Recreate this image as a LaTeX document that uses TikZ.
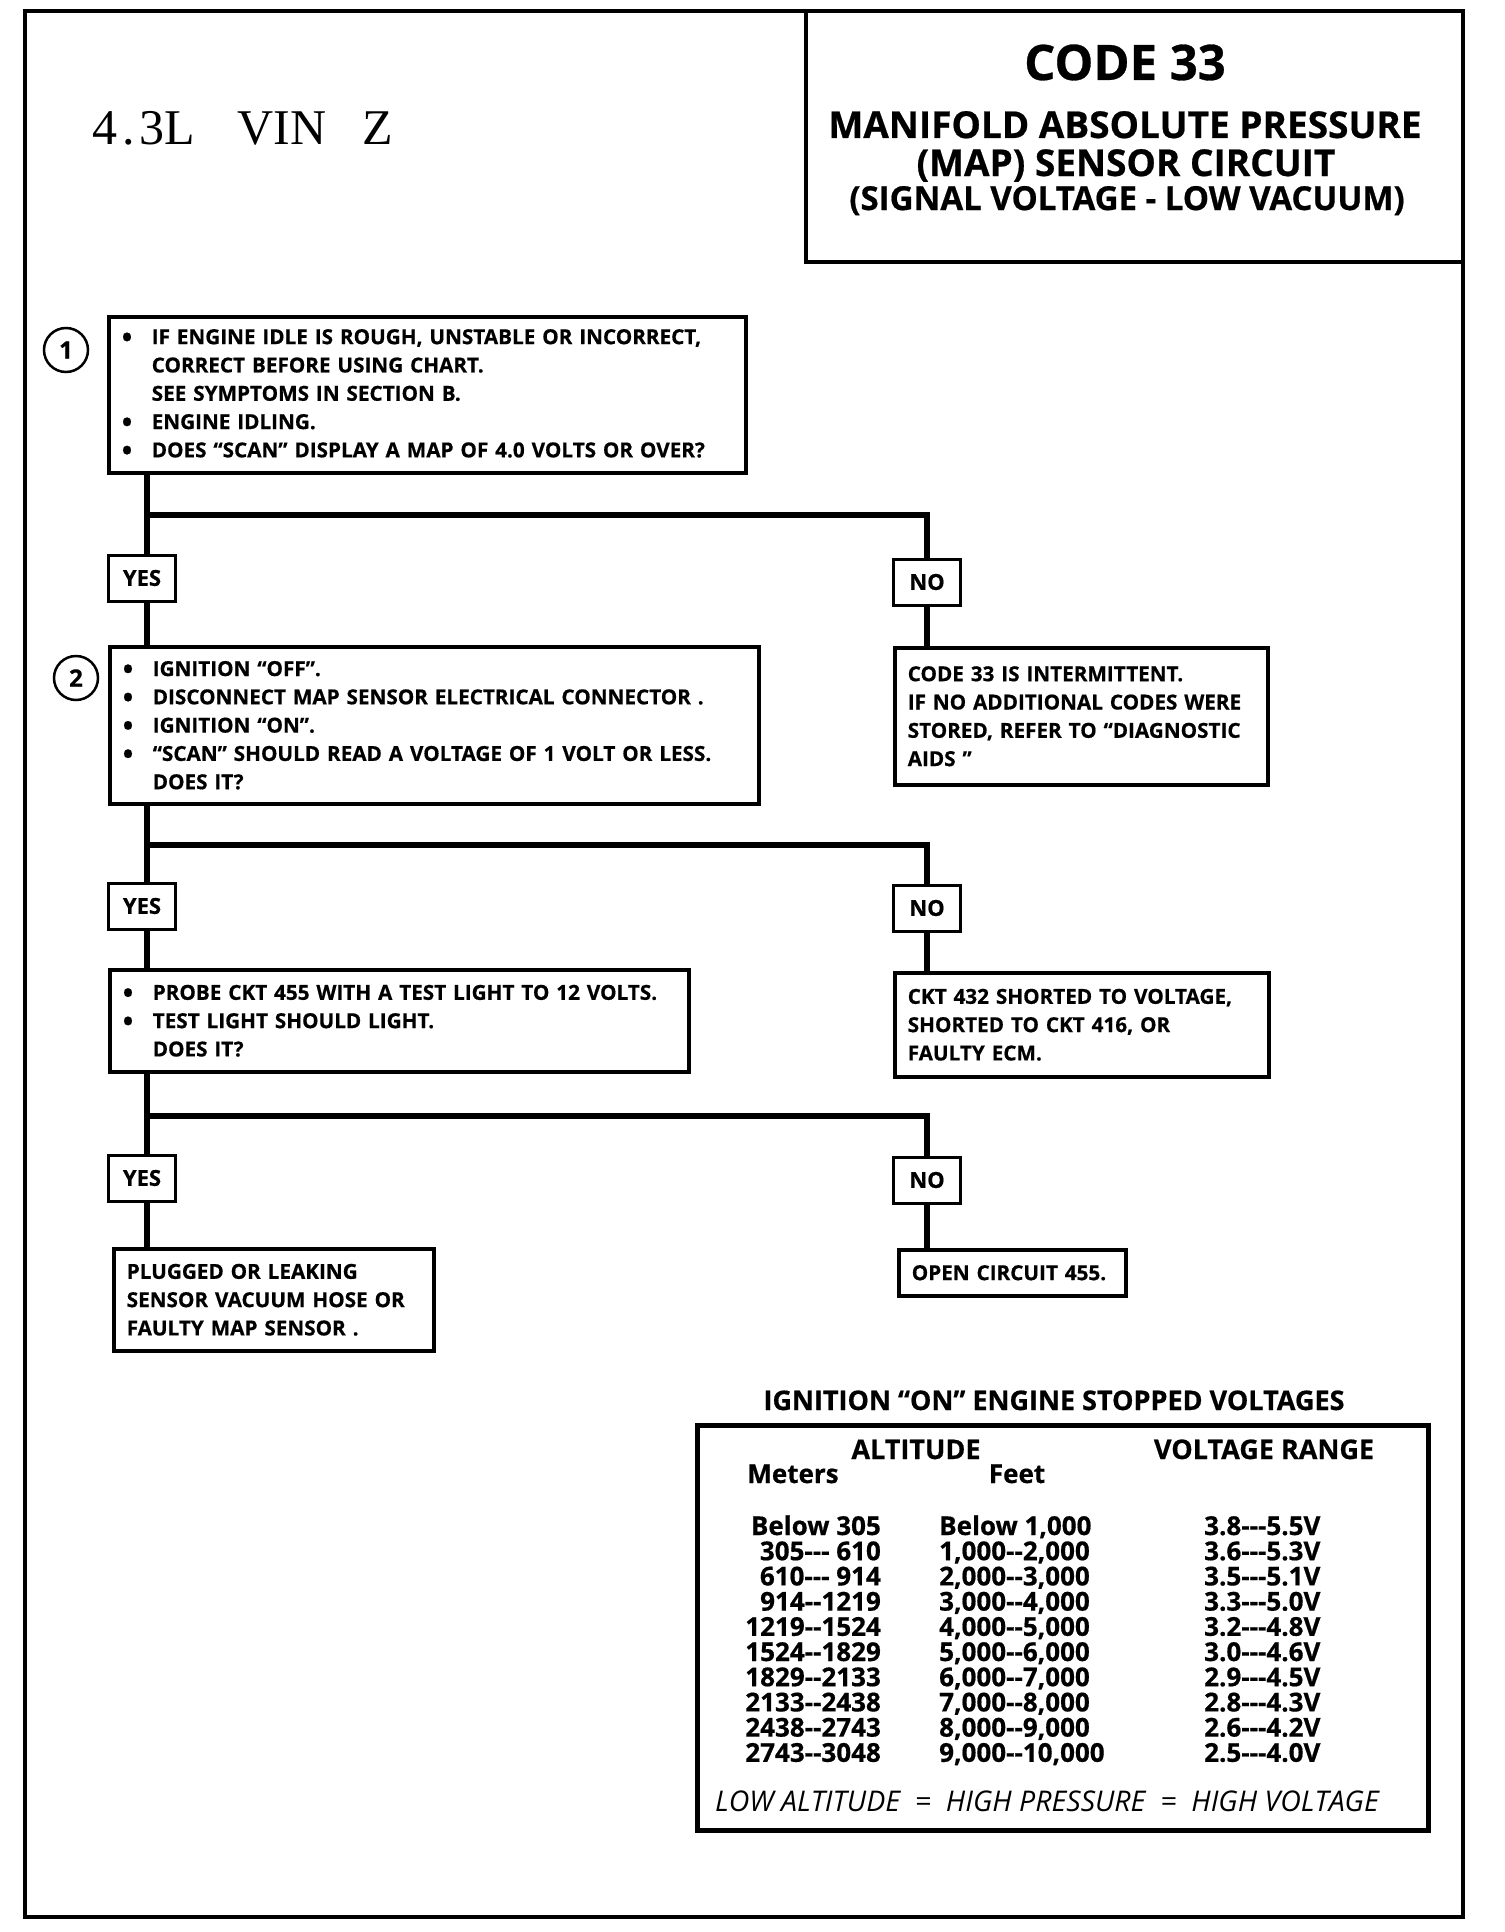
\documentclass[tikz,border=0pt]{standalone}
\usepackage{fontspec}
\setmainfont{Open Sans}[Ligatures=TeXOff]
\newfontfamily\heavy{Open Sans}[Ligatures=TeXOff, BoldFeatures={FakeBold=0.6}]
\newfontfamily\vinfont{Liberation Serif}
\usetikzlibrary{positioning}

\newcommand{\bitem}{\makebox[30pt][l]{\raisebox{-3pt}{\fontsize{28}{0}\selectfont\textbullet}}}
\newcommand{\bcont}{\hspace*{30pt}}

\begin{document}
\begin{tikzpicture}[
  x=1pt, y=-1pt,
  chk/.style={draw, line width=3.5pt, anchor=north west, align=left,
    inner xsep=13pt, inner ysep=0pt,
    font=\heavy\bfseries\fontsize{20.7}{28.3}\selectfont},
  ans/.style={draw, line width=3pt, fill=white, minimum width=67pt,
    minimum height=46pt, inner sep=0pt,
    font=\heavy\bfseries\fontsize{22}{22}\selectfont},
  num/.style={circle, draw, line width=2.5pt, minimum size=44pt,
    inner sep=0pt, font=\heavy\bfseries\fontsize{24}{24}\selectfont},
  conn/.style={line width=6pt},
  ttl/.style={anchor=base, inner sep=0pt, font=\heavy\bfseries\fontsize{37}{37}\selectfont},
  cell/.style={inner sep=0pt, font=\heavy\bfseries\fontsize{26}{26}\selectfont}
]
\useasboundingbox (0,0) rectangle (1504,1932);

% frame and heading
\draw[line width=4pt] (25,11) rectangle (1463,1917);
\draw[line width=3.5pt] (806,11) rectangle (1463,262);
\node[anchor=base west, inner sep=0pt, font=\vinfont\fontsize{50}{50}\selectfont]
  (vin) at (92,145) {4\kern5pt.\kern5pt3L\hspace{42pt}VIN\hspace{36pt}Z};
\node[ttl, font=\heavy\bfseries\fontsize{49}{49}\selectfont] (code) at (1125,80) {CODE 33};
\node[ttl] (titleA) at (1125,138) {MANIFOLD ABSOLUTE PRESSURE};
\node[ttl] (titleB) at (1126,176) {(MAP) SENSOR CIRCUIT};
\node[ttl, font=\heavy\bfseries\fontsize{33}{33}\selectfont] (titleC) at (1127,210) {(SIGNAL VOLTAGE - LOW VACUUM)};

% checks
\node[num] (n1) at (66,350) {1};
\node[num] (n2) at (76,678) {2};

\node[chk, text width=611pt, minimum height=156pt] (q1) at (107,315)
  {\bitem IF ENGINE IDLE IS ROUGH, UNSTABLE OR INCORRECT,\\
   \bcont CORRECT BEFORE USING CHART.\\
   \bcont SEE SYMPTOMS IN SECTION B.\\
   \bitem ENGINE IDLING.\\
   \bitem DOES “SCAN” DISPLAY A MAP OF 4.0 VOLTS OR OVER?};
\node[chk, text width=623pt, minimum height=157pt] (q2) at (108,645)
  {\bitem IGNITION “OFF”.\\
   \bitem DISCONNECT MAP SENSOR ELECTRICAL CONNECTOR .\\
   \bitem IGNITION “ON”.\\
   \bitem “SCAN” SHOULD READ  A VOLTAGE OF 1 VOLT OR LESS.\\
   \bcont DOES IT?};
\node[chk, text width=553pt, minimum height=102pt] (q3) at (108,968)
  {\bitem PROBE CKT 455 WITH A TEST LIGHT TO 12  VOLTS.\\
   \bitem TEST LIGHT SHOULD LIGHT.\\
   \bcont DOES IT?};

% results
\node[chk, text width=347pt, minimum height=137pt] (r1) at (893,646)
  {CODE 33 IS INTERMITTENT.\\
   IF NO ADDITIONAL CODES WERE\\
   STORED, REFER TO  “DIAGNOSTIC\\
   AIDS ”};
\node[chk, text width=348pt, minimum height=104pt] (r2) at (893,971)
  {CKT 432 SHORTED TO VOLTAGE,\\
   SHORTED TO CKT 416, OR\\
   FAULTY ECM.};
\node[chk, text width=294pt, minimum height=102pt] (l3) at (112,1247)
  {PLUGGED OR LEAKING\\
   SENSOR  VACUUM HOSE OR\\
   FAULTY MAP SENSOR .};
\node[chk, text width=201pt, minimum height=46pt] (r3) at (897,1248)
  {OPEN CIRCUIT 455.};

% answers
\node[ans] (y1) at (142,578) {YES};
\node[ans] (no1) at (927,582) {NO};
\node[ans] (y2) at (142,906) {YES};
\node[ans] (no2) at (927,908) {NO};
\node[ans] (y3) at (142,1178) {YES};
\node[ans] (no3) at (927,1180) {NO};

\coordinate (b1) at (147,515);
\coordinate (b2) at (147,845);
\coordinate (b3) at (147,1116);

\draw[conn] (b1 |- q1.south) -- (b1 |- y1.north);
\draw[conn] (b1 |- y1.south) -- (b1 |- q2.north);
\draw[conn] (b1) -| (no1);
\draw[conn] (no1) -- (no1 |- r1.north);

\draw[conn] (b2 |- q2.south) -- (b2 |- y2.north);
\draw[conn] (b2 |- y2.south) -- (b2 |- q3.north);
\draw[conn] (b2) -| (no2);
\draw[conn] (no2) -- (no2 |- r2.north);

\draw[conn] (b3 |- q3.south) -- (b3 |- y3.north);
\draw[conn] (b3 |- y3.south) -- (b3 |- l3.north);
\draw[conn] (b3) -| (no3);
\draw[conn] (no3) -- (no3 |- r3.north);

% voltage table
\node[cell, anchor=base, font=\heavy\bfseries\fontsize{27}{27}\selectfont] (ttitle) at (1054,1410)
  {IGNITION “ON” ENGINE STOPPED VOLTAGES};
\node[draw, line width=5pt, anchor=north west, minimum width=731pt,
  minimum height=405pt, inner sep=0pt] (tbox) at (695,1423) {};
\node[cell, anchor=base, font=\heavy\bfseries\fontsize{27}{27}\selectfont] (hAlt) at (916,1459) {ALTITUDE};
\node[cell, anchor=base, font=\heavy\bfseries\fontsize{27}{27}\selectfont] (hVolt) at (1264,1459) {VOLTAGE RANGE};
\node[cell, anchor=base] (hM) at (793,1483) {Meters};
\node[cell, anchor=base] (hF) at (1017,1483) {Feet};
\foreach \m/\f/\v [count=\i] in {
  Below 305/{Below 1,000}/3.8---5.5V,
  305--- 610/{1,000--2,000}/3.6---5.3V,
  610--- 914/{2,000--3,000}/3.5---5.1V,
  914--1219/{3,000--4,000}/3.3---5.0V,
  1219--1524/{4,000--5,000}/3.2---4.8V,
  1524--1829/{5,000--6,000}/3.0---4.6V,
  1829--2133/{6,000--7,000}/2.9---4.5V,
  2133--2438/{7,000--8,000}/2.8---4.3V,
  2438--2743/{8,000--9,000}/2.6---4.2V,
  2743--3048/{9,000--10,000}/2.5---4.0V}
{
  \node[cell, anchor=base east] (m\i) at (881,{1535+25.2*(\i-1)}) {\m};
  \node[cell, anchor=base west] (f\i) at (939,{1535+25.2*(\i-1)}) {\f};
  \node[cell, anchor=base west] (v\i) at (1204,{1535+25.2*(\i-1)}) {\v};
}
\node[cell, anchor=base, font=\itshape\fontsize{28.5}{28.5}\selectfont] (foot) at (1047,1811)
  {LOW ALTITUDE \ = \ HIGH PRESSURE \ = \ HIGH VOLTAGE};
\end{tikzpicture}
\end{document}
